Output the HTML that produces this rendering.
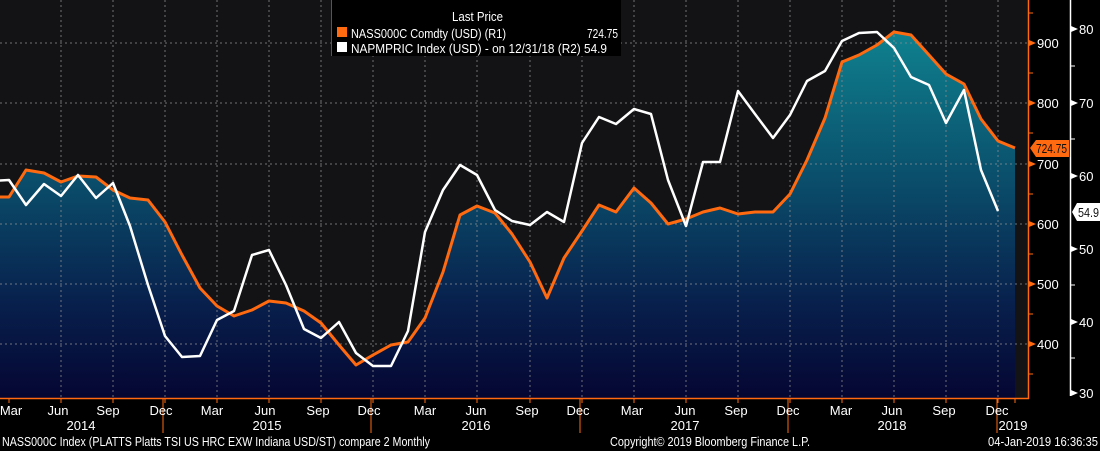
<!DOCTYPE html>
<html><head><meta charset="utf-8"><style>
html,body{margin:0;padding:0;background:#000;width:1100px;height:451px;overflow:hidden}
svg{display:block;font-family:"Liberation Sans",sans-serif}
</style></head><body>
<svg width="1100" height="451" viewBox="0 0 1100 451">
<defs>
<linearGradient id="g" gradientUnits="userSpaceOnUse" x1="0" y1="30" x2="0" y2="398">
<stop offset="0" stop-color="#0f828f"/>
<stop offset="0.4" stop-color="#0a4f6c"/>
<stop offset="0.75" stop-color="#081f4c"/>
<stop offset="1" stop-color="#050632"/>
</linearGradient>
</defs>
<rect x="0" y="0" width="1100" height="451" fill="#000"/>
<rect x="0" y="0" width="1028" height="398" fill="#131316"/>
<polygon fill="url(#g)" points="-8,398 -8,197 9,197 26,170 44,173 61,182 78,176 96,177 113,190 130,198 148,200 165,222 182,255 200,288 217,306 234,316 252,310 269,301 286,303 304,311 321,323 339,345 356,365 373,355 391,345 408,342 425,318 443,272 460,215 477,206 495,213 512,234 530,262 547,298 564,258 582,231 599,205 616,212 634,188 651,203 668,224 686,219 703,212 720,208 738,214 755,212 773,212 790,194 807,160 825,118 842,62 859,55 877,45 894,32 911,35 929,55 946,74 964,84 981,119 998,141 1015,148 1015,398"/>
<g stroke="#8a8a8a" stroke-width="1" stroke-dasharray="2,3" opacity="0.8">
<line x1="0" y1="43" x2="1028" y2="43"/><line x1="0" y1="103" x2="1028" y2="103"/><line x1="0" y1="164" x2="1028" y2="164"/><line x1="0" y1="224" x2="1028" y2="224"/><line x1="0" y1="284" x2="1028" y2="284"/><line x1="0" y1="344" x2="1028" y2="344"/>
<line x1="61" y1="0" x2="61" y2="398"/><line x1="113" y1="0" x2="113" y2="398"/><line x1="165" y1="0" x2="165" y2="398"/><line x1="217" y1="0" x2="217" y2="398"/><line x1="269" y1="0" x2="269" y2="398"/><line x1="321" y1="0" x2="321" y2="398"/><line x1="373" y1="0" x2="373" y2="398"/><line x1="425" y1="0" x2="425" y2="398"/><line x1="477" y1="0" x2="477" y2="398"/><line x1="530" y1="0" x2="530" y2="398"/><line x1="582" y1="0" x2="582" y2="398"/><line x1="634" y1="0" x2="634" y2="398"/><line x1="686" y1="0" x2="686" y2="398"/><line x1="738" y1="0" x2="738" y2="398"/><line x1="790" y1="0" x2="790" y2="398"/><line x1="842" y1="0" x2="842" y2="398"/><line x1="894" y1="0" x2="894" y2="398"/><line x1="946" y1="0" x2="946" y2="398"/><line x1="998" y1="0" x2="998" y2="398"/>
</g>
<polyline fill="none" stroke="#ff6a10" stroke-width="3" stroke-linejoin="round" points="-8,197 9,197 26,170 44,173 61,182 78,176 96,177 113,190 130,198 148,200 165,222 182,255 200,288 217,306 234,316 252,310 269,301 286,303 304,311 321,323 339,345 356,365 373,355 391,345 408,342 425,318 443,272 460,215 477,206 495,213 512,234 530,262 547,298 564,258 582,231 599,205 616,212 634,188 651,203 668,224 686,219 703,212 720,208 738,214 755,212 773,212 790,194 807,160 825,118 842,62 859,55 877,45 894,32 911,35 929,55 946,74 964,84 981,119 998,141 1015,148"/>
<polyline fill="none" stroke="#ffffff" stroke-width="2.5" stroke-linejoin="round" points="-8,181 9,180 26,205 44,184 61,196 78,175 96,198 113,183 130,226 148,285 165,336 182,357 200,356 217,320 234,311 252,255 269,250 286,285 304,329 321,338 339,322 356,353 373,366 391,366 408,331 425,232 443,190 460,165 477,175 495,210 512,221 530,225 547,212 564,222 582,143 599,117 616,124 634,109 651,114 668,180 686,226 703,162 720,162 738,91 755,114 773,138 790,115 807,81 825,71 842,41 859,33 877,32 894,48 911,77 929,85 946,123 964,90 981,170 998,211"/>
<line x1="0" y1="398.5" x2="1029" y2="398.5" stroke="#ff6a10" stroke-width="1.5"/>
<line x1="1028.5" y1="0" x2="1028.5" y2="399" stroke="#ff6a10" stroke-width="1.5"/>
<line x1="1070.5" y1="0" x2="1070.5" y2="396" stroke="#fff" stroke-width="1.5"/>
<g stroke="#ff6a10" stroke-width="1">
<line x1="1028" y1="13" x2="1033" y2="13"/><line x1="1028" y1="73" x2="1033" y2="73"/><line x1="1028" y1="133" x2="1033" y2="133"/><line x1="1028" y1="194" x2="1033" y2="194"/><line x1="1028" y1="254" x2="1033" y2="254"/><line x1="1028" y1="314" x2="1033" y2="314"/><line x1="1028" y1="374" x2="1033" y2="374"/>
</g>
<g fill="#ff6a10"><polygon points="1029,40 1036,43 1029,46"/><polygon points="1029,100 1036,103 1029,106"/><polygon points="1029,161 1036,164 1029,167"/><polygon points="1029,221 1036,224 1029,227"/><polygon points="1029,281 1036,284 1029,287"/><polygon points="1029,341 1036,344 1029,347"/></g>
<g fill="#fff" font-size="13"><text x="1037" y="48">900</text><text x="1037" y="108">800</text><text x="1037" y="169">700</text><text x="1037" y="229">600</text><text x="1037" y="289">500</text><text x="1037" y="349">400</text></g>
<g fill="#fff"><polygon points="1071,26 1078,29 1071,32"/><polygon points="1071,100 1078,103 1071,106"/><polygon points="1071,173 1078,176 1071,179"/><polygon points="1071,246 1078,249 1071,252"/><polygon points="1071,319 1078,322 1071,325"/><polygon points="1071,390 1078,393 1071,396"/></g>
<g stroke="#fff"><line x1="1070" y1="66" x2="1075" y2="66"/><line x1="1070" y1="139" x2="1075" y2="139"/><line x1="1070" y1="285" x2="1075" y2="285"/><line x1="1070" y1="358" x2="1075" y2="358"/></g>
<g fill="#fff" font-size="13"><text x="1079" y="34">80</text><text x="1079" y="108">70</text><text x="1079" y="181">60</text><text x="1079" y="254">50</text><text x="1079" y="327">40</text><text x="1079" y="398">30</text></g>
<polygon points="1030,148 1036,140 1069,140 1069,157 1036,157" fill="#ff6a10"/>
<text x="1036" y="153" fill="#111" font-size="13" textLength="31" lengthAdjust="spacingAndGlyphs">724.75</text>
<polygon points="1072,212 1077,203 1100,203 1100,221 1077,221" fill="#fff"/>
<text x="1078" y="217" fill="#111" font-size="13" textLength="21" lengthAdjust="spacingAndGlyphs">54.9</text>
<g stroke="#ff6a10" stroke-width="1">
<line x1="9" y1="399" x2="9" y2="403"/><line x1="61" y1="399" x2="61" y2="403"/><line x1="113" y1="399" x2="113" y2="403"/><line x1="165" y1="399" x2="165" y2="403"/><line x1="217" y1="399" x2="217" y2="403"/><line x1="269" y1="399" x2="269" y2="403"/><line x1="321" y1="399" x2="321" y2="403"/><line x1="373" y1="399" x2="373" y2="403"/><line x1="425" y1="399" x2="425" y2="403"/><line x1="477" y1="399" x2="477" y2="403"/><line x1="530" y1="399" x2="530" y2="403"/><line x1="582" y1="399" x2="582" y2="403"/><line x1="634" y1="399" x2="634" y2="403"/><line x1="686" y1="399" x2="686" y2="403"/><line x1="738" y1="399" x2="738" y2="403"/><line x1="790" y1="399" x2="790" y2="403"/><line x1="842" y1="399" x2="842" y2="403"/><line x1="894" y1="399" x2="894" y2="403"/><line x1="946" y1="399" x2="946" y2="403"/><line x1="998" y1="399" x2="998" y2="403"/><line x1="1015" y1="399" x2="1015" y2="403"/>
<line x1="163" y1="399" x2="163" y2="433"/><line x1="371" y1="399" x2="371" y2="433"/><line x1="580" y1="399" x2="580" y2="433"/><line x1="788" y1="399" x2="788" y2="433"/><line x1="997" y1="399" x2="997" y2="433"/>
</g>
<g fill="#fff" font-size="13" text-anchor="middle">
<text x="11" y="415">Mar</text><text x="58" y="415">Jun</text><text x="108" y="415">Sep</text><text x="161" y="415">Dec</text><text x="212" y="415">Mar</text><text x="265" y="415">Jun</text><text x="318" y="415">Sep</text><text x="369" y="415">Dec</text><text x="425" y="415">Mar</text><text x="476" y="415">Jun</text><text x="527" y="415">Sep</text><text x="578" y="415">Dec</text><text x="632" y="415">Mar</text><text x="685" y="415">Jun</text><text x="736" y="415">Sep</text><text x="788" y="415">Dec</text><text x="841" y="415">Mar</text><text x="892" y="415">Jun</text><text x="944" y="415">Sep</text><text x="997" y="415">Dec</text>
<text x="81" y="430">2014</text><text x="267" y="430">2015</text><text x="476" y="430">2016</text><text x="685" y="430">2017</text><text x="892" y="430">2018</text><text x="1013" y="430">2019</text>
</g>
<g fill="#fff" font-size="13">
<text x="2" y="446" textLength="428" lengthAdjust="spacingAndGlyphs">NASS000C Index (PLATTS Platts TSI US HRC EXW Indiana USD/ST) compare 2  Monthly</text>
<text x="610" y="446" textLength="200" lengthAdjust="spacingAndGlyphs">Copyright© 2019 Bloomberg Finance L.P.</text>
<text x="988" y="446" textLength="110" lengthAdjust="spacingAndGlyphs">04-Jan-2019 16:36:35</text>
</g>
<rect x="331" y="0" width="290" height="56" fill="#000"/>
<line x1="331.5" y1="0" x2="331.5" y2="56" stroke="#555"/>
<g fill="#fff" font-size="13">
<text x="452" y="21" textLength="51" lengthAdjust="spacingAndGlyphs">Last Price</text>
<rect x="337" y="27" width="10" height="10" fill="#ff6a10"/>
<text x="351" y="38" textLength="155" lengthAdjust="spacingAndGlyphs">NASS000C Comdty (USD)  (R1)</text>
<text x="587" y="38" textLength="31" lengthAdjust="spacingAndGlyphs">724.75</text>
<rect x="337" y="42" width="10" height="10" fill="#fff"/>
<text x="351" y="53" textLength="256" lengthAdjust="spacingAndGlyphs">NAPMPRIC Index (USD) -  on 12/31/18  (R2) 54.9</text>
</g>
</svg>
</body></html>
